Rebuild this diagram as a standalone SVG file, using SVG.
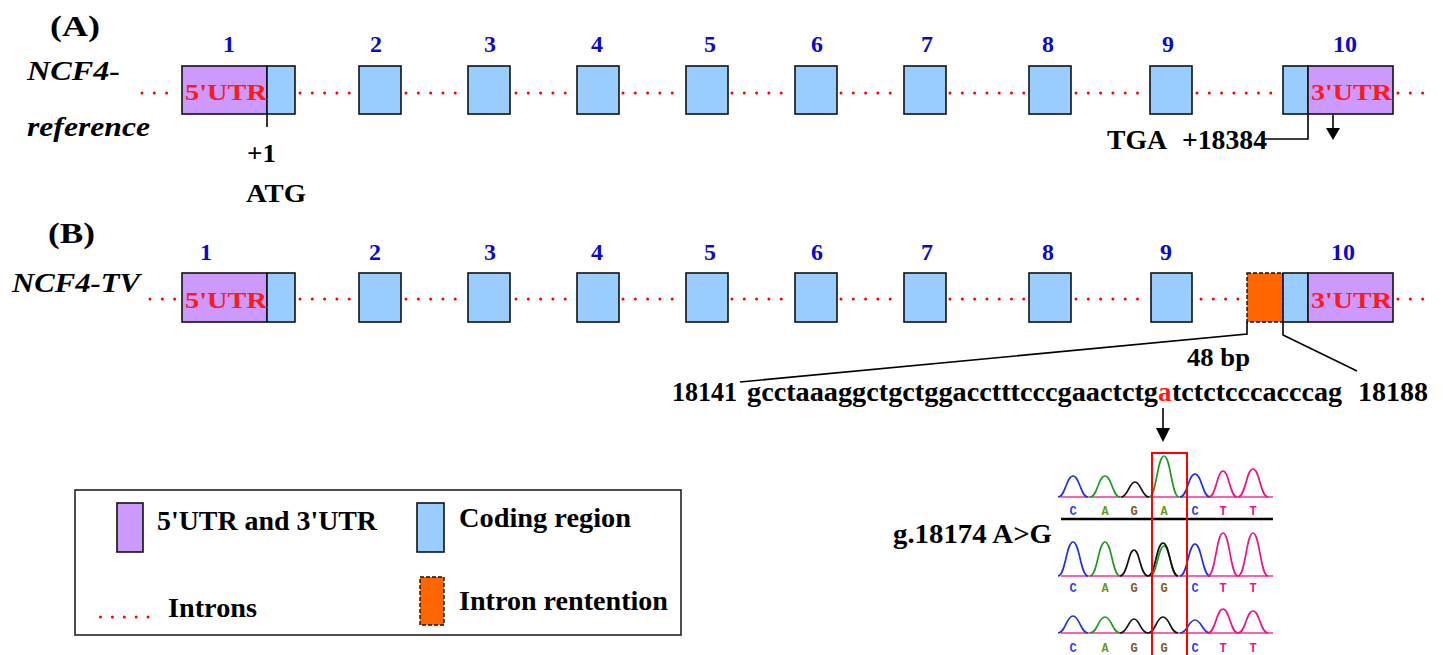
<svg xmlns="http://www.w3.org/2000/svg" width="1443" height="655" viewBox="0 0 1443 655">
<defs>
<style>
.t{font-family:"Liberation Serif","Times New Roman",serif;font-weight:bold;fill:#000}
.ti{font-family:"Liberation Serif","Times New Roman",serif;font-weight:bold;font-style:italic;fill:#000}
.num{font-family:"Liberation Serif","Times New Roman",serif;font-weight:bold;font-size:24px;fill:#0a0ac8;text-anchor:middle}
.utr-t{font-family:"Liberation Serif","Times New Roman",serif;font-weight:bold;font-size:24px;fill:#ff1a1a}
.utr{fill:#cc99ff;stroke:#111;stroke-width:1.6}
.cds{fill:#99ccff;stroke:#111;stroke-width:1.6}
.ret{fill:#ff6600;stroke:#111;stroke-width:1.4;stroke-dasharray:4 2}
.intron{stroke:#ff0000;stroke-width:3;stroke-linecap:round;stroke-dasharray:0 12.3;fill:none}
.ln{stroke:#000;stroke-width:1.6;fill:none}
.pk{fill:none;stroke-width:1.7}
.bl{font-family:"Liberation Mono",monospace;font-weight:bold;font-size:12px;text-anchor:middle}
</style>
</defs>
<rect width="1443" height="655" fill="#fff"/>

<!-- Panel A -->
<g id="panelA-labels">
<text class="t" x="50" y="36" font-size="29" textLength="50" lengthAdjust="spacingAndGlyphs">(A)</text>
<text class="ti" x="27" y="80" font-size="28" textLength="93" lengthAdjust="spacingAndGlyphs">NCF4-</text>
<text class="ti" x="27" y="136" font-size="28" textLength="123" lengthAdjust="spacingAndGlyphs">reference</text>
</g>
<g id="A-introns">
<line class="intron" x1="142" y1="93" x2="178" y2="93"/>
<line class="intron" x1="300" y1="93" x2="356" y2="93"/>
<line class="intron" x1="406" y1="93" x2="465" y2="93"/>
<line class="intron" x1="516" y1="93" x2="574" y2="93"/>
<line class="intron" x1="623" y1="93" x2="683" y2="93"/>
<line class="intron" x1="732" y1="93" x2="792" y2="93"/>
<line class="intron" x1="841" y1="93" x2="901" y2="93"/>
<line class="intron" x1="950" y1="93" x2="1026" y2="93"/>
<line class="intron" x1="1076" y1="93" x2="1147" y2="93"/>
<line class="intron" x1="1197" y1="93" x2="1280" y2="93"/>
<line class="intron" x1="1398" y1="93" x2="1425" y2="93"/>
</g>
<g id="A-exon1"><rect class="utr" x="182" y="66" width="85" height="48"/><rect class="cds" x="267" y="66" width="28" height="48"/><text class="utr-t" x="185" y="100" textLength="82" lengthAdjust="spacingAndGlyphs">5'UTR</text><text class="num" x="229" y="52">1</text></g>
<g id="A-exon2"><rect class="cds" x="359" y="66" width="42" height="48"/><text class="num" x="376" y="52">2</text></g>
<g id="A-exon3"><rect class="cds" x="468" y="66" width="42" height="48"/><text class="num" x="490" y="52">3</text></g>
<g id="A-exon4"><rect class="cds" x="577" y="66" width="42" height="48"/><text class="num" x="597" y="52">4</text></g>
<g id="A-exon5"><rect class="cds" x="686" y="66" width="42" height="48"/><text class="num" x="710" y="52">5</text></g>
<g id="A-exon6"><rect class="cds" x="795" y="66" width="42" height="48"/><text class="num" x="817" y="52">6</text></g>
<g id="A-exon7"><rect class="cds" x="904" y="66" width="42" height="48"/><text class="num" x="927" y="52">7</text></g>
<g id="A-exon8"><rect class="cds" x="1029" y="66" width="42" height="48"/><text class="num" x="1048" y="52">8</text></g>
<g id="A-exon9"><rect class="cds" x="1150" y="66" width="42" height="48"/><text class="num" x="1168" y="52">9</text></g>
<g id="A-exon10"><rect class="cds" x="1283" y="66" width="25" height="48"/><rect class="utr" x="1308" y="66" width="85" height="48"/><text class="utr-t" x="1311" y="100" textLength="81" lengthAdjust="spacingAndGlyphs">3'UTR</text><text class="num" x="1345" y="52">10</text></g>
<g id="A-annot">
<text class="t" x="247" y="162" font-size="26" textLength="29" lengthAdjust="spacingAndGlyphs">+1</text>
<text class="t" x="246" y="202" font-size="26" textLength="60" lengthAdjust="spacingAndGlyphs">ATG</text>
<text class="t" y="149" font-size="27"><tspan x="1107" textLength="60" lengthAdjust="spacingAndGlyphs">TGA</tspan><tspan x="1182" textLength="85" lengthAdjust="spacingAndGlyphs">+18384</tspan></text>
</g>

<!-- Panel B -->
<g id="panelB-labels">
<text class="t" x="48" y="243" font-size="29" textLength="47" lengthAdjust="spacingAndGlyphs">(B)</text>
<text class="ti" x="12" y="292" font-size="28" textLength="128" lengthAdjust="spacingAndGlyphs">NCF4-TV</text>
</g>
<g id="B-introns">
<line class="intron" x1="150" y1="299" x2="178" y2="299"/>
<line class="intron" x1="300" y1="299" x2="356" y2="299"/>
<line class="intron" x1="406" y1="299" x2="465" y2="299"/>
<line class="intron" x1="516" y1="299" x2="574" y2="299"/>
<line class="intron" x1="623" y1="299" x2="683" y2="299"/>
<line class="intron" x1="732" y1="299" x2="792" y2="299"/>
<line class="intron" x1="841" y1="299" x2="901" y2="299"/>
<line class="intron" x1="950" y1="299" x2="1026" y2="299"/>
<line class="intron" x1="1076" y1="299" x2="1147" y2="299"/>
<line class="intron" x1="1201" y1="299" x2="1242" y2="299"/>
<line class="intron" x1="1398" y1="299" x2="1425" y2="299"/>
</g>
<g id="B-exon1"><rect class="utr" x="182" y="273" width="85" height="49"/><rect class="cds" x="267" y="273" width="28" height="49"/><text class="utr-t" x="185" y="308" textLength="82" lengthAdjust="spacingAndGlyphs">5'UTR</text><text class="num" x="206" y="260">1</text></g>
<g id="B-exon2"><rect class="cds" x="359" y="273" width="42" height="49"/><text class="num" x="375" y="260">2</text></g>
<g id="B-exon3"><rect class="cds" x="468" y="273" width="42" height="49"/><text class="num" x="490" y="260">3</text></g>
<g id="B-exon4"><rect class="cds" x="577" y="273" width="42" height="49"/><text class="num" x="597" y="260">4</text></g>
<g id="B-exon5"><rect class="cds" x="686" y="273" width="42" height="49"/><text class="num" x="710" y="260">5</text></g>
<g id="B-exon6"><rect class="cds" x="795" y="273" width="42" height="49"/><text class="num" x="817" y="260">6</text></g>
<g id="B-exon7"><rect class="cds" x="904" y="273" width="42" height="49"/><text class="num" x="927" y="260">7</text></g>
<g id="B-exon8"><rect class="cds" x="1029" y="273" width="42" height="49"/><text class="num" x="1048" y="260">8</text></g>
<g id="B-exon9"><rect class="cds" x="1151" y="273" width="41" height="49"/><text class="num" x="1166" y="260">9</text></g>
<g id="B-retention"><rect class="ret" x="1247" y="273" width="36" height="49"/></g>
<g id="B-exon10"><rect class="cds" x="1283" y="273" width="25" height="49"/><rect class="utr" x="1308" y="273" width="85" height="49"/><text class="utr-t" x="1311" y="308" textLength="81" lengthAdjust="spacingAndGlyphs">3'UTR</text><text class="num" x="1343" y="260">10</text></g>

<g id="connectors">
<line class="ln" x1="267" y1="115" x2="267" y2="127"/>
<polyline class="ln" points="1308,115 1308,139 1263,139"/>
<line class="ln" x1="1333" y1="115" x2="1333" y2="129"/>
<polygon points="1326,128 1340,128 1333,140" fill="#000"/>
<polyline class="ln" points="1247,322 1247,334 740,382"/>
<polyline class="ln" points="1283,322 1283,335 1357,371"/>
<line class="ln" x1="1163" y1="408" x2="1163" y2="429"/>
<polygon points="1156,428 1170,428 1163,442" fill="#000"/>
</g>

<g id="sequence">
<text class="t" x="1187" y="366" font-size="26" textLength="63" lengthAdjust="spacingAndGlyphs">48 bp</text>
<text class="t" y="401" font-size="27"><tspan x="672" textLength="65" lengthAdjust="spacingAndGlyphs">18141</tspan><tspan x="747" textLength="411" lengthAdjust="spacingAndGlyphs">gcctaaaggctgctggacctttcccgaactctg</tspan><tspan x="1158" fill="#ff1a1a">a</tspan><tspan x="1172" textLength="170" lengthAdjust="spacingAndGlyphs">tctctcccacccag</tspan><tspan x="1358" textLength="70" lengthAdjust="spacingAndGlyphs">18188</tspan></text>
</g>

<g id="chromatogram">
<text class="t" x="893" y="543" font-size="27" textLength="159" lengthAdjust="spacingAndGlyphs">g.18174 A&gt;G</text>
<line x1="1061" y1="497" x2="1273" y2="497" stroke="#ee3399" stroke-width="1.5"/>
<line x1="1061" y1="576" x2="1273" y2="576" stroke="#ee3399" stroke-width="1.5"/>
<line x1="1061" y1="633" x2="1273" y2="633" stroke="#ee3399" stroke-width="1.5"/>
<path class="pk" stroke="#2233dd" d="M1058,497 C1065.5,497 1066.3,476 1073,476 C1079.7,476 1080.5,497 1088,497"/>
<path class="pk" stroke="#229922" d="M1090,497 C1097.5,497 1098.3,476 1105,476 C1111.7,476 1112.5,497 1120,497"/>
<path class="pk" stroke="#111" d="M1121,497 C1128,497 1129,482 1135,482 C1141,482 1142,497 1149,497"/>
<path class="pk" stroke="#229922" d="M1149,497 C1156.5,497 1157.3,456 1164,456 C1170.7,456 1171.5,497 1179,497"/>
<path class="pk" stroke="#2233dd" d="M1180,497 C1187.5,497 1188.3,474 1195,474 C1201.7,474 1202.5,497 1210,497"/>
<path class="pk" stroke="#ee1188" d="M1209,497 C1216,497 1217,471 1223,471 C1229,471 1230,497 1237,497"/>
<path class="pk" stroke="#ee1188" d="M1238,497 C1245.5,497 1246.3,469 1253,469 C1259.7,469 1260.5,497 1268,497"/>
<path class="pk" stroke="#2233dd" d="M1058,576 C1065.5,576 1066.3,542 1073,542 C1079.7,542 1080.5,576 1088,576"/>
<path class="pk" stroke="#229922" d="M1090,576 C1097.5,576 1098.3,542 1105,542 C1111.7,542 1112.5,576 1120,576"/>
<path class="pk" stroke="#111" d="M1120,576 C1127.5,576 1128.3,550 1134,550 C1139.7,550 1140.5,576 1148,576"/>
<path class="pk" stroke="#229922" d="M1150,576 C1157,576 1158,546 1164,546 C1170,546 1171,576 1178,576"/>
<path class="pk" stroke="#111" d="M1148,576 C1155.5,576 1156.3,543 1163,543 C1169.7,543 1170.5,576 1178,576"/>
<path class="pk" stroke="#2233dd" d="M1180,576 C1187.5,576 1188.3,544 1195,544 C1201.7,544 1202.5,576 1210,576"/>
<path class="pk" stroke="#ee1188" d="M1208,576 C1215.5,576 1216.3,533 1223,533 C1229.7,533 1230.5,576 1238,576"/>
<path class="pk" stroke="#ee1188" d="M1238,576 C1245.5,576 1246.3,533 1253,533 C1259.7,533 1260.5,576 1268,576"/>
<path class="pk" stroke="#2233dd" d="M1058,633 C1065.5,633 1066.3,616 1073,616 C1079.7,616 1080.5,633 1088,633"/>
<path class="pk" stroke="#229922" d="M1090,633 C1097.5,633 1098.3,617 1105,617 C1111.7,617 1112.5,633 1120,633"/>
<path class="pk" stroke="#111" d="M1120,633 C1127.5,633 1128.3,619 1134,619 C1139.7,619 1140.5,633 1148,633"/>
<path class="pk" stroke="#111" d="M1148,633 C1155.5,633 1156.3,617 1163,617 C1169.7,617 1170.5,633 1178,633"/>
<path class="pk" stroke="#2233dd" d="M1180,633 C1187.5,633 1188.3,620 1195,620 C1201.7,620 1202.5,633 1210,633"/>
<path class="pk" stroke="#ee1188" d="M1208,633 C1215.5,633 1216.3,609 1223,609 C1229.7,609 1230.5,633 1238,633"/>
<path class="pk" stroke="#ee1188" d="M1238,633 C1245.5,633 1246.3,611 1253,611 C1259.7,611 1260.5,633 1268,633"/>
<g class="bl">
<text x="1073" y="515" fill="#3344dd">C</text><text x="1105" y="515" fill="#669922">A</text><text x="1134" y="515" fill="#885522">G</text><text x="1164" y="515" fill="#669922">A</text><text x="1195" y="515" fill="#3344dd">C</text><text x="1223" y="515" fill="#ee1188">T</text><text x="1253" y="515" fill="#ee1188">T</text>
<text x="1073" y="592" fill="#3344dd">C</text><text x="1105" y="592" fill="#669922">A</text><text x="1134" y="592" fill="#885522">G</text><text x="1164" y="592" fill="#885522">G</text><text x="1195" y="592" fill="#3344dd">C</text><text x="1223" y="592" fill="#ee1188">T</text><text x="1253" y="592" fill="#ee1188">T</text>
<text x="1073" y="652" fill="#3344dd">C</text><text x="1105" y="652" fill="#669922">A</text><text x="1134" y="652" fill="#885522">G</text><text x="1164" y="652" fill="#885522">G</text><text x="1195" y="652" fill="#3344dd">C</text><text x="1223" y="652" fill="#ee1188">T</text><text x="1253" y="652" fill="#ee1188">T</text>
</g>
<line x1="1061" y1="519" x2="1273" y2="519" stroke="#000" stroke-width="2.5"/>
<rect x="1152" y="453" width="35" height="210" fill="none" stroke="#ff0000" stroke-width="2"/>
</g>

<!-- Legend -->
<g id="legend">
<rect x="75" y="490" width="606" height="145" fill="none" stroke="#222" stroke-width="1.6"/>
<rect class="utr" x="117" y="503" width="26" height="49"/>
<text class="t" x="157" y="530" font-size="28" textLength="220" lengthAdjust="spacingAndGlyphs">5'UTR and 3'UTR</text>
<rect class="cds" x="417" y="503" width="27" height="49"/>
<text class="t" x="459" y="527" font-size="28" textLength="172" lengthAdjust="spacingAndGlyphs">Coding region</text>
<line class="intron" x1="100.5" y1="617" x2="148.5" y2="617" style="stroke-dasharray:0 11.9"/>
<text class="t" x="168" y="617" font-size="28" textLength="89" lengthAdjust="spacingAndGlyphs">Introns</text>
<rect class="ret" x="420" y="577" width="24" height="48"/>
<text class="t" x="459" y="610" font-size="28" textLength="209" lengthAdjust="spacingAndGlyphs">Intron rentention</text>
</g>
</svg>
